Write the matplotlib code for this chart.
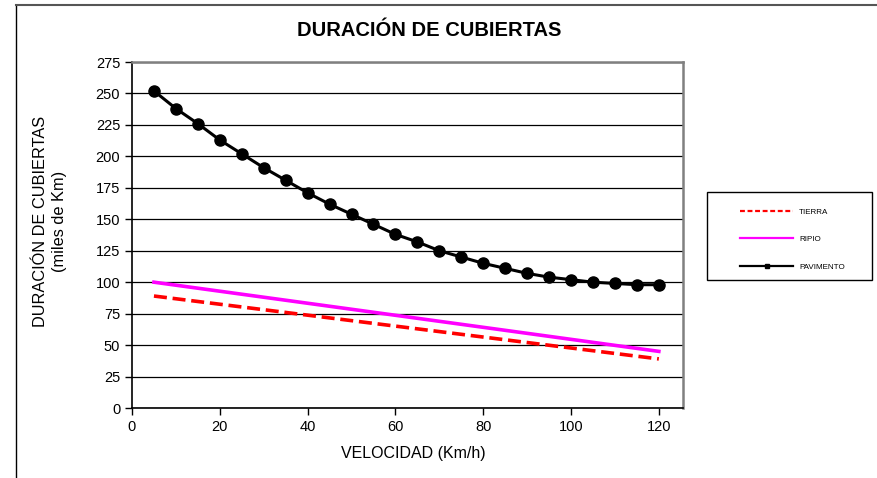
import matplotlib.pyplot as plt
from matplotlib.lines import Line2D
from matplotlib.patches import Rectangle

plt.rcParams['font.family'] = ['Liberation Sans', 'DejaVu Sans']

# Velocidad (Km/h) y duración (miles de Km)
vel = [5, 10, 15, 20, 25, 30, 35, 40, 45, 50, 55, 60,
       65, 70, 75, 80, 85, 90, 95, 100, 105, 110, 115, 120]
pavimento = [252, 238, 226, 213, 202, 191, 181, 171, 162, 154, 146, 138,
             132, 125, 120, 115, 111, 107, 104, 102, 100, 99, 98, 98]
vel_rect = [5, 120]
tierra = [89, 39]
ripio = [100, 45]

fig = plt.figure(figsize=(8.78, 4.78), dpi=100, facecolor='w')
ax = fig.add_axes([132/878, 1 - 408/478, 551/878, 346/478])

ax.plot(vel_rect, tierra, c='#ff0000', lw=2.6, dashes=(3.6, 1.6), label='TIERRA')
ax.plot(vel_rect, ripio, c='#ff00ff', lw=2.6, label='RIPIO')
ax.plot(vel, pavimento, c='k', lw=2.2, marker='o', ms=8, label='PAVIMENTO')

ax.set_xlim(0, 125.5)
ax.set_ylim(0, 275)
ax.set_xticks(range(0, 121, 20))
ax.set_yticks(range(0, 276, 25))
ax.tick_params(labelsize=10.5, length=5, width=1, color='k', direction='out')
ax.yaxis.grid(True, color='k', lw=0.9)
ax.set_axisbelow(True)
for s in ['left', 'bottom']:
    ax.spines[s].set_color('k')
    ax.spines[s].set_linewidth(1.2)
for s in ['top', 'right']:
    ax.spines[s].set_color('#808080')
    ax.spines[s].set_linewidth(1.8)

ax.set_xlabel('VELOCIDAD (Km/h)', fontsize=11.5)
ax.xaxis.set_label_coords(0.51, -0.11)
ax.set_ylabel('DURACIÓN DE CUBIERTAS\n(miles de Km)', fontsize=11.8,
              linespacing=1.3)
ax.yaxis.set_label_coords(-0.118, 0.538)

fig.text(429/878, 1 - 31/478, 'DURACIÓN DE CUBIERTAS', ha='center', va='center',
         fontsize=14.5, fontweight='bold')

# legend
h = [Line2D([], [], c='#ff0000', lw=1.6, dashes=(2.2, 1.2)),
     Line2D([], [], c='#ff00ff', lw=1.6),
     Line2D([], [], c='k', lw=1.6, marker='s', ms=2.5)]
fig.legend(h, ['TIERRA', 'RIPIO', 'PAVIMENTO'], loc='upper left',
           bbox_to_anchor=(733/878, 1 - 201/478), frameon=False, fontsize=5.8,
           handlelength=6.6, handletextpad=0.7, labelspacing=2.45, numpoints=1)
fig.patches.append(Rectangle((707/878, 1 - 280/478), 165/878, 88/478,
                             transform=fig.transFigure, fill=False, ec='k', lw=1))

# outer chart-area frame
fig.add_artist(Line2D([16/878, 16/878], [0, 1 - 5/478], c='k', lw=1,
                      transform=fig.transFigure))
fig.add_artist(Line2D([16/878, 1], [1 - 5/478, 1 - 5/478], c='#555555', lw=1.5,
                      transform=fig.transFigure))

fig.savefig('out.png', dpi=100)
